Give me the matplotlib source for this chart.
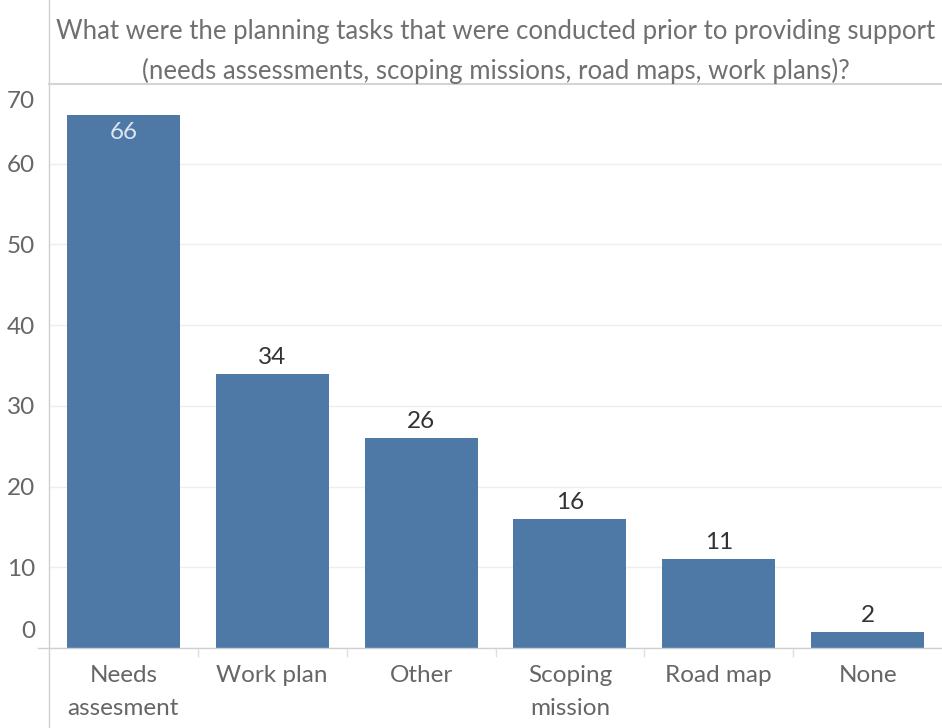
import matplotlib.pyplot as plt
from matplotlib.transforms import ScaledTranslation

plt.rcParams['font.family'] = ['Lato', 'DejaVu Sans']

# Data
categories = ['Needs\nassesment', 'Work plan', 'Other', 'Scoping\nmission', 'Road map', 'None']
counts = [66, 34, 26, 16, 11, 2]
yticks = [0, 10, 20, 30, 40, 50, 60, 70]
title_lines = ['What were the planning tasks that were conducted prior to providing support',
               '(needs assessments, scoping missions, road maps, work plans)?']

bar_color = '#4E79A7'
text_grey = '#666666'
FS = 17.5

fig = plt.figure(figsize=(9.42, 7.28), dpi=100)
ax = fig.add_axes([49 / 942, 1 - 648 / 728, 1 - 49 / 942, (648 - 83) / 728])

x = list(range(len(categories)))
ax.bar(x, counts, width=0.76, color=bar_color, zorder=3)
ax.set_xlim(-0.5, len(categories) - 0.5)
ax.set_ylim(0, 70)

# value labels
for xi, v in zip(x, counts):
    if v > 60:
        ax.text(xi, v, str(v), ha='center', va='top', fontsize=FS,
                color='#dde4ee', zorder=4,
                transform=ax.transData + ScaledTranslation(0, -7 / 100, fig.dpi_scale_trans))
    else:
        ax.text(xi, v, str(v), ha='center', va='bottom', fontsize=FS,
                color='#333333', zorder=4,
                transform=ax.transData + ScaledTranslation(0, 6 / 100, fig.dpi_scale_trans))

# gridlines
ax.set_yticks(yticks)
ax.set_yticklabels([str(t) for t in yticks], fontsize=FS, color=text_grey)
ax.yaxis.grid(True, color='#eeeeee', linewidth=1, zorder=0)
ax.tick_params(axis='y', length=0, pad=10)
labels = ax.get_yticklabels()
labels[0].set_transform(labels[0].get_transform() + ScaledTranslation(0, 18 / 100, fig.dpi_scale_trans))
labels[-1].set_transform(labels[-1].get_transform() + ScaledTranslation(0, -17 / 100, fig.dpi_scale_trans))

ax.set_xticks(x)
ax.set_xticklabels(categories, fontsize=FS, color=text_grey, linespacing=1.7)
ax.tick_params(axis='x', length=0, pad=12)

for s in ['top', 'right', 'bottom', 'left']:
    ax.spines[s].set_visible(False)

# zero line extending into tick label area, band separators
fig.add_artist(plt.Line2D([38 / 942, 1], [1 - 648 / 728] * 2, color='#d0d0d0', linewidth=1))
for i in range(1, len(categories)):
    bx = (49 + i * (942 - 49) / len(categories)) / 942
    fig.add_artist(plt.Line2D([bx, bx], [1 - 649 / 728, 1 - 656 / 728], color='#e0e0e0', linewidth=1))

# vertical axis line across the whole figure
fig.add_artist(plt.Line2D([49 / 942] * 2, [0, 1], color='#d0d0d0', linewidth=1))

# title box bottom border
fig.add_artist(plt.Line2D([49 / 942, 1], [1 - 84 / 728] * 2, color='#d4d4d4', linewidth=1.5))

cx = (49 + 942) / 2 / 942
fig.text(cx, 1 - 32 / 728, title_lines[0], ha='center', va='center', fontsize=18.5, color='#707070')
fig.text(cx, 1 - 71 / 728, title_lines[1], ha='center', va='center', fontsize=18.5, color='#707070')

fig.savefig('out.png', dpi=100)
